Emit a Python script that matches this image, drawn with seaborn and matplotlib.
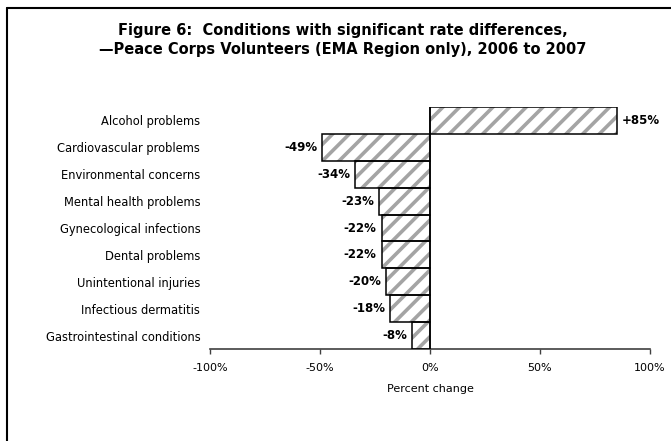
import matplotlib
matplotlib.use("Agg")
import matplotlib.pyplot as plt
import seaborn as sns
import pandas as pd
from matplotlib.patches import Rectangle
from matplotlib.lines import Line2D
from matplotlib.ticker import FuncFormatter

categories = [
    "Alcohol problems",
    "Cardiovascular problems",
    "Environmental concerns",
    "Mental health problems",
    "Gynecological infections",
    "Dental problems",
    "Unintentional injuries",
    "Infectious dermatitis",
    "Gastrointestinal conditions",
]
values = [85, -49, -34, -23, -22, -22, -20, -18, -8]
value_labels = ["+85%", "-49%", "-34%", "-23%", "-22%", "-22%", "-20%", "-18%", "-8%"]
x_ticks = [-100, -50, 0, 50, 100]

title = ("Figure 6:  Conditions with significant rate differences,\n"
         "\u2014Peace Corps Volunteers (EMA Region only), 2006 to 2007")

sns.set_theme(style="white")
plt.rcParams["font.family"] = ["DejaVu Sans"]
plt.rcParams["text.color"] = "black"
plt.rcParams["axes.labelcolor"] = "black"
plt.rcParams["xtick.color"] = "black"
plt.rcParams["ytick.color"] = "black"
plt.rcParams["hatch.linewidth"] = 2.6

df = pd.DataFrame({"condition": categories, "change": values})

fig = plt.figure(figsize=(6.71, 4.41), dpi=100)
ax = fig.add_axes([210 / 671, 1 - 349 / 441, 440 / 671, 242 / 441])

sns.barplot(data=df, x="change", y="condition", orient="h", color="white",
            saturation=1, width=1.0, edgecolor="#a4a4a4", linewidth=0,
            hatch="//", ax=ax)

# black outlines over the hatched bars
for p in list(ax.patches):
    ax.add_patch(Rectangle(p.get_xy(), p.get_width(), p.get_height(),
                           fill=False, edgecolor="black", linewidth=1.1, zorder=3))

ax.bar_label(ax.containers[0], labels=value_labels, padding=3.5,
             fontsize=8.5, fontweight="bold", color="black")

ax.set_xlim(-100, 100)
ax.set_ylim(len(categories) - 0.5, -0.5)
ax.set_xticks(x_ticks)
ax.xaxis.set_major_formatter(FuncFormatter(lambda v, pos: f"{v:.0f}%"))
ax.set_xlabel("Percent change", fontsize=8, labelpad=8, color="black")
ax.set_ylabel("")
ax.tick_params(axis="x", labelsize=8, length=3.5, width=1, color="#404040",
               labelcolor="black", direction="out", bottom=True, pad=6.5)
ax.tick_params(axis="y", labelsize=8.3, length=0, pad=7, labelcolor="black")
for s in ["left", "right", "top"]:
    ax.spines[s].set_visible(False)
ax.spines["bottom"].set_color("#404040")
ax.spines["bottom"].set_linewidth(1.2)
ax.axvline(0, color="black", linewidth=1.1, zorder=4)

fig.text(343 / 671, 1 - 40 / 441, title, ha="center", va="center",
         fontsize=10.5, fontweight="bold", linespacing=1.3, color="black")

# chart frame (top and left edges visible)
fig.add_artist(Line2D([7 / 671, 1.0], [1 - 8 / 441, 1 - 8 / 441],
                      transform=fig.transFigure, color="black", linewidth=1.5))
fig.add_artist(Line2D([7 / 671, 7 / 671], [0.0, 1 - 8 / 441],
                      transform=fig.transFigure, color="black", linewidth=1.5))

fig.savefig("out.png", dpi=100)
